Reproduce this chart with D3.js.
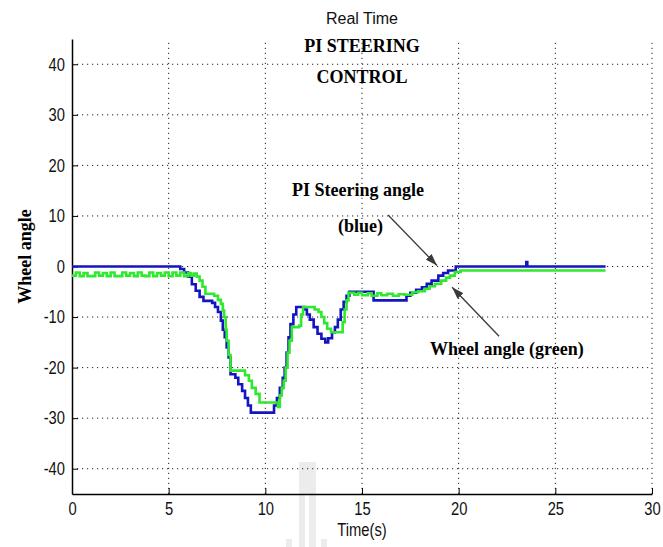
<!DOCTYPE html>
<html>
<head>
<meta charset="utf-8">
<script src="https://cdn.jsdelivr.net/npm/d3@7"></script>
<style>
  body { margin: 0; background: #fff; }
  svg { display: block; }
</style>
</head>
<body>
<div id="chart"></div>
<script>
// axis ticks
const xTicks = [0, 5, 10, 15, 20, 25, 30];
const yTicks = [-40, -30, -20, -10, 0, 10, 20, 30, 40];

// PI steering angle (blue), [time, angle], drawn as stairs
const steerTime = [0, 5.4, 5.6, 5.8, 6.0, 6.2, 6.4, 6.6, 6.8, 7.25, 7.4, 7.55, 7.7, 7.8, 7.9, 8.0, 8.1, 8.2,
  8.45, 8.6, 8.8, 8.95, 9.1, 9.25, 10.35, 10.45, 10.6, 10.75, 10.9, 11.0, 11.1, 11.2, 11.3, 11.45, 11.6,
  12.0, 12.15, 12.3, 12.5, 12.7, 12.9, 13.1, 13.25, 13.45, 13.6, 13.75, 13.9, 14.05, 14.2, 14.35,
  15.5, 15.6, 17.2, 17.3, 17.5, 17.8, 18.1, 18.35, 18.6, 18.95, 19.2, 19.45, 19.85, 23.45, 23.5, 23.55, 27.6];
const steerAngle = [0, 0, -0.5, -1.2, -2, -3.5, -4.8, -6, -6.8, -7.2, -8, -9, -10.7, -12.5, -14, -16, -18, -21.3,
  -22, -23.3, -24.6, -26, -27.5, -28.9, -28.9, -27.5, -26, -24, -22, -20, -17, -14, -11.4, -9.5, -8,
  -8.5, -9.5, -10.5, -12, -13.3, -14.3, -15, -14.2, -13, -12, -10.5, -8.5, -7, -5.8, -5,
  -5, -6.7, -6.7, -5.8, -5.2, -4.6, -4.1, -3.4, -2.8, -1.8, -1.3, -0.8, 0, 0, 0.9, 0, 0];

// wheel angle (green)
const wheelTime = [0, 0.2, 0.4, 0.6, 0.8, 1.0, 1.2, 1.4, 1.6, 1.8, 2.0, 2.2, 2.4, 2.6, 2.8, 3.0, 3.2, 3.4, 3.6,
  3.8, 4.0, 4.2, 4.4, 4.6, 4.8, 5.0, 5.2, 5.4, 5.6, 5.8, 6.0, 6.15,
  6.3, 6.45, 6.6, 6.75, 6.9, 7.35, 7.55, 7.7, 7.8, 7.87, 7.95, 8.0, 8.1, 8.2, 8.8, 8.95, 9.15, 9.3, 9.5, 9.7,
  10.5, 10.65, 10.75, 10.85, 10.95, 11.05, 11.15, 11.25, 11.37, 11.75, 11.85, 11.95, 12.35, 12.55, 12.75,
  12.9, 13.05, 13.2, 13.4, 13.9, 14.0, 14.1, 14.2, 14.3, 14.6, 14.8, 15.0, 15.3, 15.5, 15.8, 16.0, 16.3,
  16.6, 16.9, 17.2, 17.6, 17.9, 18.25, 18.5, 18.77, 19.1, 19.35, 19.55, 19.8, 20.1, 27.6];
const wheelAngle = [-1.8, -1.2, -1.9, -1.3, -1.9, -1.9, -1.2, -1.8, -1.3, -1.9, -1.2, -1.9, -1.9, -1.2, -1.8, -1.3, -1.9, -1.2, -1.8,
  -1.9, -1.2, -1.9, -1.3, -1.8, -1.2, -1.9, -1.2, -1.8, -1.2, -1.9, -1.3, -1.8,
  -1.4, -2, -2.8, -4, -5.4, -5.8, -6.6, -7.4, -8.7, -10, -12.5, -14.7, -17.5, -20.6, -20.6, -21.5, -22.6, -24, -25.2, -26.9,
  -26.9, -27.8, -25.5, -24, -22.6, -20, -17, -14.7, -12, -11.7, -9.5, -8, -8, -8.5, -9,
  -10, -11.2, -12.3, -13, -13, -11, -8.5, -6.7, -5.2, -5.6, -5.2, -5.7, -5.3, -5.8, -5.3, -5.7, -5.4,
  -5.8, -5.5, -5.6, -5.1, -4.9, -4.4, -3.9, -3.4, -2.8, -2.2, -1.8, -1.1, -0.8, -0.8];

// annotation arrows in data units: [tailT, tailV, tipT, tipV]
const arrows = [[16.35, 10.2, 18.88, 0.2], [22.09, -13.8, 19.66, -4.1]];

const W = 663, H = 547;
const margin = {top: 39, right: 11, bottom: 53, left: 72};

const svg = d3.select("#chart").append("svg")
    .attr("width", W)
    .attr("height", H);

const x = d3.scaleLinear().domain([0, 30]).range([margin.left, W - margin.right]);
const y = d3.scaleLinear().domain([-45, 45]).range([H - margin.bottom, margin.top]);

// faint watermark behind the plot
const wm = svg.append("g").attr("fill", "#ececec");
wm.append("rect").attr("x", 299).attr("y", 462).attr("width", 17).attr("height", 33);
wm.append("rect").attr("x", 299).attr("y", 495).attr("width", 6).attr("height", 52);
wm.append("rect").attr("x", 309).attr("y", 495).attr("width", 7).attr("height", 52);
wm.append("rect").attr("x", 286).attr("y", 539).attr("width", 6).attr("height", 8);
wm.append("rect").attr("x", 321).attr("y", 539).attr("width", 6).attr("height", 8);

// dotted grid
const grid = svg.append("g")
    .attr("stroke", "#222")
    .attr("stroke-width", 1)
    .attr("stroke-dasharray", "1.2,3.8");

grid.selectAll(".gx")
    .data(xTicks.filter(d => d > 0))
    .join("line")
    .attr("x1", d => x(d)).attr("x2", d => x(d))
    .attr("y1", y(-45)).attr("y2", y(45));

grid.selectAll(".gy")
    .data(yTicks)
    .join("line")
    .attr("x1", x(0)).attr("x2", x(30))
    .attr("y1", d => y(d)).attr("y2", d => y(d));

// axes, MATLAB style inward ticks
const sans = "'Liberation Sans', Arial, sans-serif";
const squeeze = 0.82; // tick labels in the picture are a narrow face

const xAxis = svg.append("g")
    .attr("transform", `translate(0, ${y(-45)})`)
    .call(d3.axisBottom(x).tickValues(xTicks).tickSizeInner(-6).tickSizeOuter(0)
        .tickPadding(8).tickFormat(d => String(d)));

const yAxis = svg.append("g")
    .attr("transform", `translate(${x(0)}, 0)`)
    .call(d3.axisLeft(y).tickValues(yTicks).tickSizeInner(-6).tickSizeOuter(0)
        .tickPadding(7).tickFormat(d => String(d)));

[xAxis, yAxis].forEach(g => {
    g.attr("font-family", sans).attr("font-size", 18);
    g.selectAll("text").attr("fill", "#111");
    g.selectAll("line").attr("stroke", "#000");
    g.select(".domain").attr("stroke", "#000").attr("stroke-width", 1.5);
});
xAxis.selectAll("text").attr("transform", `scale(${squeeze},1)`);
yAxis.selectAll("text")
    .attr("x", -7 / squeeze)
    .attr("transform", `scale(${squeeze},1)`);

// lines
const line = d3.line()
    .x(d => x(d[0]))
    .y(d => y(d[1]))
    .curve(d3.curveStepAfter);

const steer = steerTime.map((t, i) => [t, steerAngle[i]]);
const wheel = wheelTime.map((t, i) => [t, wheelAngle[i]]);

svg.append("path")
    .datum(steer)
    .attr("fill", "none")
    .attr("stroke", "#1414c0")
    .attr("stroke-width", 2.6)
    .attr("d", line);

svg.append("path")
    .datum(wheel)
    .attr("fill", "none")
    .attr("stroke", "#2fe82f")
    .attr("stroke-width", 2.6)
    .attr("d", line);

// titles and labels
svg.append("text")
    .attr("x", x(15)).attr("y", 24)
    .attr("text-anchor", "middle")
    .attr("font-family", sans)
    .attr("font-size", 16)
    .attr("fill", "#111")
    .text("Real Time");

svg.append("text")
    .attr("transform", `translate(${x(15)}, 536) scale(${squeeze},1)`)
    .attr("text-anchor", "middle")
    .attr("font-family", sans)
    .attr("font-size", 18)
    .attr("fill", "#111")
    .text("Time(s)");

const serif = "'Liberation Serif', 'Times New Roman', serif";

svg.append("text")
    .attr("x", x(15)).attr("y", 52)
    .attr("text-anchor", "middle")
    .attr("font-family", serif).attr("font-weight", "bold").attr("font-size", 18)
    .text("PI STEERING");

svg.append("text")
    .attr("x", x(15)).attr("y", 83)
    .attr("text-anchor", "middle")
    .attr("font-family", serif).attr("font-weight", "bold").attr("font-size", 18)
    .text("CONTROL");

svg.append("text")
    .attr("transform", `translate(31, ${y(0) - 10}) rotate(-90)`)
    .attr("text-anchor", "middle")
    .attr("font-family", serif).attr("font-weight", "bold").attr("font-size", 18)
    .text("Wheel angle");

svg.append("text")
    .attr("x", 292).attr("y", 196)
    .attr("font-family", serif).attr("font-weight", "bold").attr("font-size", 18)
    .text("PI Steering angle");

svg.append("text")
    .attr("x", 338).attr("y", 232)
    .attr("font-family", serif).attr("font-weight", "bold").attr("font-size", 18)
    .text("(blue)");

svg.append("text")
    .attr("x", 430).attr("y", 355)
    .attr("font-family", serif).attr("font-weight", "bold").attr("font-size", 18)
    .text("Wheel angle (green)");

// arrows
svg.append("defs").append("marker")
    .attr("id", "head")
    .attr("viewBox", "0 0 12 8")
    .attr("refX", 12).attr("refY", 4)
    .attr("markerWidth", 12).attr("markerHeight", 8)
    .attr("markerUnits", "userSpaceOnUse")
    .attr("orient", "auto")
    .append("path")
    .attr("d", "M0,0 L12,4 L0,8 Z")
    .attr("fill", "#3a3a3a");

svg.selectAll(".arrow")
    .data(arrows)
    .join("line")
    .attr("x1", d => x(d[0])).attr("y1", d => y(d[1]))
    .attr("x2", d => x(d[2])).attr("y2", d => y(d[3]))
    .attr("stroke", "#3a3a3a")
    .attr("stroke-width", 1.3)
    .attr("marker-end", "url(#head)");
</script>
</body>
</html>
